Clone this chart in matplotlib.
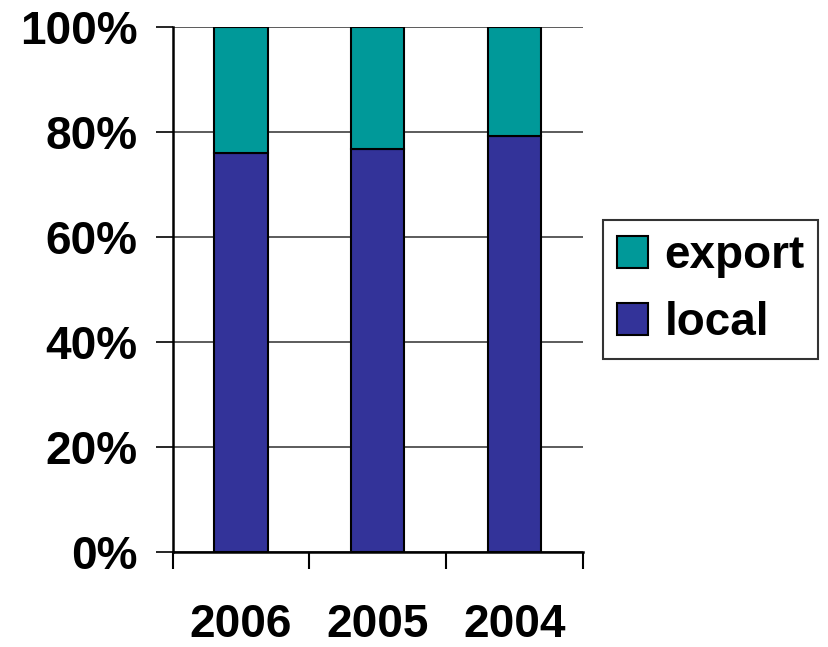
import matplotlib.pyplot as plt
import numpy as np
from matplotlib.ticker import FuncFormatter

years = ["2006", "2005", "2004"]
local = [76.0, 76.7, 79.3]
export = [24.0, 23.3, 20.7]

plt.rcParams["font.family"] = ["Liberation Sans", "DejaVu Sans"]
plt.rcParams["font.weight"] = "bold"

fig = plt.figure(figsize=(8.29, 6.47), dpi=100)
ax = fig.add_axes([0.2083, 0.1473, 0.703 - 0.2083, 0.958 - 0.1473])

x = np.arange(len(years))
w = 0.39
b1 = ax.bar(x, local, w, color="#333399", edgecolor="black", linewidth=1.5,
            label="local", zorder=3)
b2 = ax.bar(x, export, w, bottom=local, color="#009999", edgecolor="black",
            linewidth=1.5, label="export", zorder=3)

ax.set_xlim(-0.5, 2.5)
ax.set_ylim(0, 100)
ax.set_yticks([0, 20, 40, 60, 80, 100])
ax.yaxis.set_major_formatter(FuncFormatter(lambda v, p: f"{int(v)}%"))
ax.tick_params(axis="y", length=12.2, width=1.2, direction="out", pad=13,
               labelsize=33)
ax.yaxis.grid(True, color="#404040", linewidth=1.2, zorder=0)

ax.set_xticks(x)
ax.set_xticklabels(years)
ax.set_xticks([-0.5, 0.5, 1.5, 2.5], minor=True)
ax.tick_params(axis="x", which="major", length=0, pad=37, labelsize=33)
ax.tick_params(axis="x", which="minor", length=12.2, width=1.5, direction="out")

for s in ["top", "right"]:
    ax.spines[s].set_visible(False)
ax.spines["left"].set_linewidth(1.8)
ax.spines["bottom"].set_linewidth(1.8)

leg = ax.legend([b2, b1], ["export", "local"], loc="center left",
                bbox_to_anchor=(1.05, 0.5), fontsize=33, frameon=True,
                fancybox=False, edgecolor="black", handlelength=0.68,
                handleheight=0.68, handletextpad=0.35, borderpad=0.3,
                labelspacing=0.5, borderaxespad=0)
leg.get_frame().set_linewidth(1.5)

fig.savefig("out.png", dpi=100)
